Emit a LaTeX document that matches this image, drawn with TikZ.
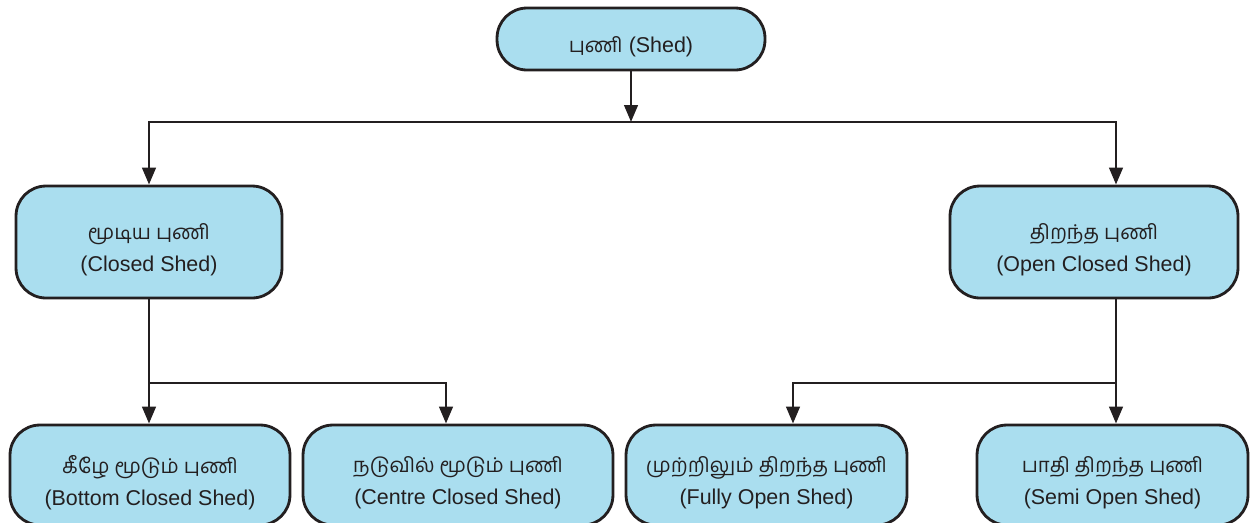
\documentclass[tikz,border=0pt]{standalone}
\usepackage{fontspec}
\setmainfont{Liberation Sans}
\newfontfamily\tamilfont[Script=Tamil]{Hind Madurai}
\usetikzlibrary{arrows.meta}
\definecolor{shedblue}{RGB}{170,222,239}
\definecolor{inkgrey}{RGB}{35,31,32}
% Tamil first line, pushed down a little inside the box
\newcommand{\shedtop}[1]{\raisebox{0pt}[\dimexpr\height+0.3cm\relax]{\tamilfont\fontsize{11.6}{18.5}\selectfont #1}}
\begin{document}
\begin{tikzpicture}[x=0.02cm,y=-0.02cm,
    shedbox/.style={rectangle, rounded corners=0.6cm, draw=inkgrey, line width=1.6pt,
      fill=shedblue, align=center, font=\fontsize{12.2}{18.5}\selectfont, text=inkgrey},
    link/.style={draw=inkgrey, line width=1.6pt},
    linkarrow/.style={link, -{Triangle[length=0.34cm,width=0.27cm]}}]
      \useasboundingbox (0,0) rectangle (1254,522);
      % Nodes
      \node (shed) at (631,39) [shedbox, minimum width=5.36cm, minimum height=1.24cm] {\shedtop{புணி} (Shed)};
      \node (closed) at (149,242) [shedbox, minimum width=5.32cm, minimum height=2.24cm] {\shedtop{மூடிய புணி}\\(Closed Shed)};
      \node (open) at (1094,242) [shedbox, minimum width=5.76cm, minimum height=2.24cm] {\shedtop{திறந்த புணி}\\(Open Closed Shed)};
      \node (bottom) at (150,475) [shedbox, minimum width=5.6cm, minimum height=2.0cm] {\shedtop{கீழே மூடும் புணி}\\(Bottom Closed Shed)};
      \node (centre) at (458,475) [shedbox, minimum width=6.2cm, minimum height=2.0cm] {\shedtop{நடுவில் மூடும் புணி}\\(Centre Closed Shed)};
      \node (fully) at (766.5,475) [shedbox, minimum width=5.62cm, minimum height=2.0cm] {\shedtop{முற்றிலும் திறந்த புணி}\\(Fully Open Shed)};
      \node (semi) at (1112.5,475) [shedbox, minimum width=5.42cm, minimum height=2.0cm] {\shedtop{பாதி திறந்த புணி}\\(Semi Open Shed)};
      \coordinate (toprow) at (631,122);
      \coordinate (closedrow) at (149,383);
      \coordinate (openrow) at (1116,383);

      % Edges
      \draw[linkarrow] (shed) -- (toprow);
      \draw[linkarrow] (toprow) -| (closed);
      \draw[linkarrow] (toprow) -| (open.north -| 1116,0);
      \draw[link] (closed) -- (closedrow);
      \draw[linkarrow] (closedrow) -- (bottom.north -| 149,0);
      \draw[linkarrow] (closedrow) -| (centre.north -| 446,0);
      \draw[link] (open.south -| 1116,0) -- (openrow);
      \draw[linkarrow] (openrow) -- (semi.north -| 1116,0);
      \draw[linkarrow] (openrow) -| (fully.north -| 793,0);
    \end{tikzpicture}
\end{document}
